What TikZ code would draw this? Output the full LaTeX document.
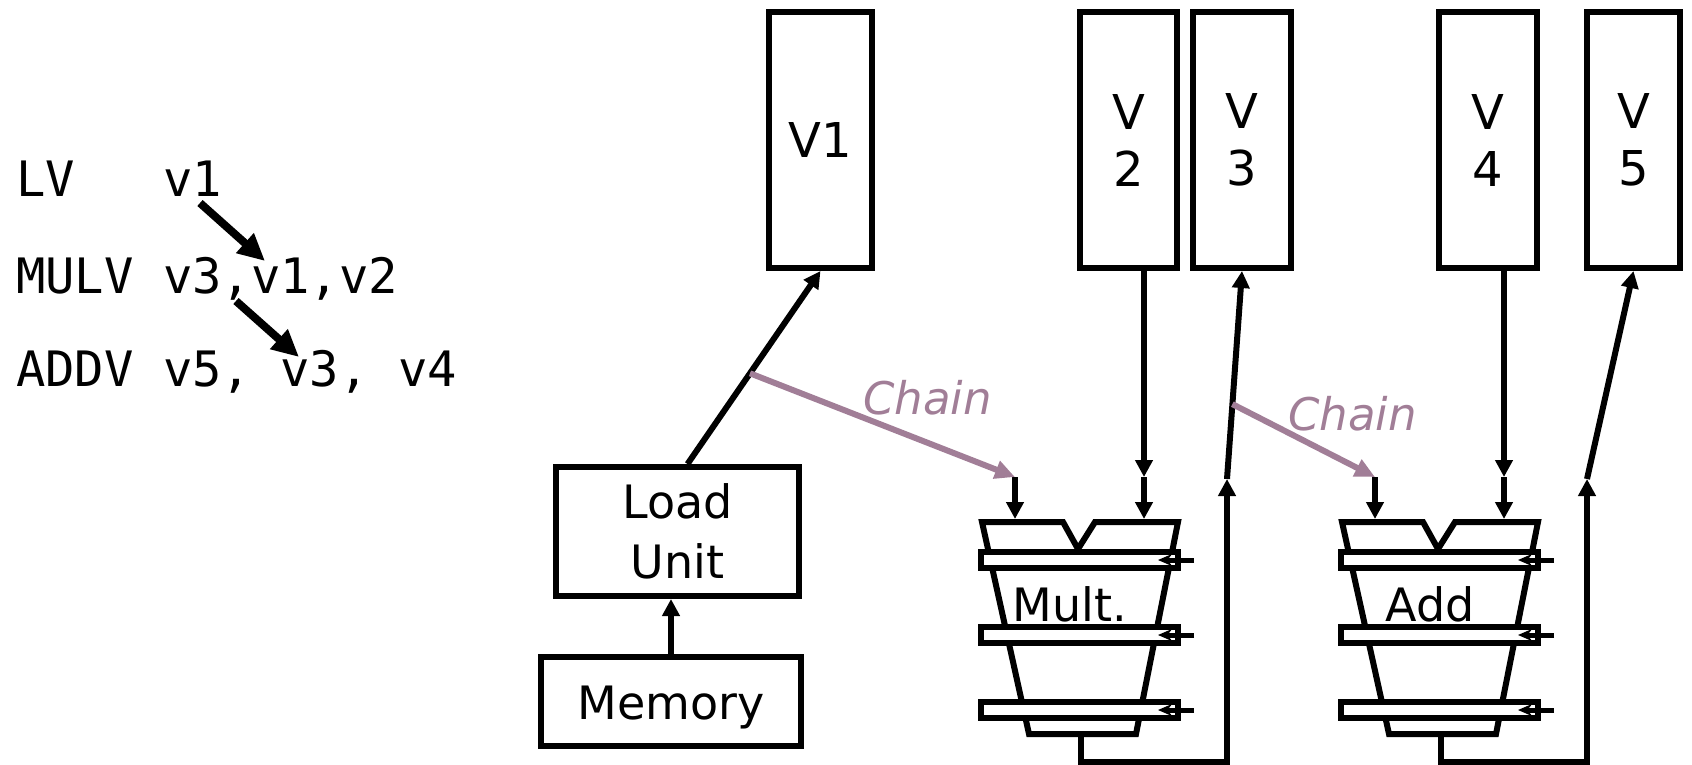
\documentclass[tikz,border=0pt]{standalone}
\usepackage{fontspec}
\setmainfont{DejaVu Sans}
\setmonofont{DejaVu Sans Mono}
\usetikzlibrary{arrows.meta,calc}
\definecolor{chaincol}{RGB}{161,126,151}
\newcommand\vfunit[3]{%
  \begin{scope}[xshift=#2]
    \coordinate (#1A) at (1015,519);
    \coordinate (#1B) at (1144,519);
    \coordinate (#1Ain) at (1015,477);
    \coordinate (#1Bin) at (1144,477);
    \coordinate (#1out) at (1081,737);
    \coordinate (#1fb) at (1227,762);
    \coordinate (#1up) at (1227,479);
    \node[unitlabel] (#1lab) at (1070,621) {#3};
    \draw[thick6] (982,522) -- (1063,522) -- (1078,549) -- (1095,522) -- (1178,522)
      -- (1136,734) -- (1029,734) -- cycle;
    \foreach \yy in {560,635,710}{
      \draw[thick6,fill=white] (980.5,\yy-8) rectangle (1177.5,\yy+8);
      \draw[clk] (1194,\yy) -- (1158,\yy);
    }
    \draw[arr] (#1Ain) -- (#1A);
    \draw[arr] (#1Bin) -- (#1B);
    \draw[arr] (#1out) |- (#1fb) -- (#1up);
  \end{scope}}
\begin{document}
\begin{tikzpicture}[x=1pt,y=-1pt,
  thick6/.style={line width=6pt,line join=miter},
  box/.style={draw,line width=6pt,rectangle,inner sep=0pt,align=center,
    font=\fontsize{46}{60}\selectfont},
  vreg/.style={box,minimum height=256pt,font=\fontsize{48}{57}\selectfont},
  arr/.style={line width=6pt,-{Triangle[length=17pt,width=17pt]}},
  chainarr/.style={line width=6pt,draw=chaincol,-{Triangle[length=20pt,width=18pt]}},
  chainlab/.style={text=chaincol,inner sep=0pt,anchor=base west,
    font=\fontsize{45}{54}\selectfont\itshape},
  clk/.style={line width=5pt,-{Stealth[length=14pt,width=12pt]}},
  unitlabel/.style={inner sep=0pt,anchor=base,font=\fontsize{46}{55}\selectfont},
  code/.style={inner sep=0pt,anchor=base west,font=\fontsize{48.8}{58}\selectfont\ttfamily},
  codearr/.style={line width=8pt,-{Triangle[length=27pt,width=25pt]}}]
\useasboundingbox (0,0) rectangle (1692,764);

% code listing
\node[code] (l1) at (16,196) {LV\ \ \ v1};
\node[code] (l2) at (16,293) {MULV v3,v1,v2};
\node[code] (l3) at (16,386) {ADDV v5, v3, v4};
\coordinate (d1s) at (200,203);
\coordinate (d1e) at (265,261);
\coordinate (d2s) at (236,301);
\coordinate (d2e) at (299,357);
\draw[codearr] (d1s) -- (d1e);
\draw[codearr] (d2s) -- (d2e);

% vector registers
\node[vreg,minimum width=103pt] (V1) at (820.5,140) {V1};
\node[vreg,minimum width=97pt] (V2) at (1128.5,140) {V\\2};
\node[vreg,minimum width=98pt] (V3) at (1242,140) {V\\3};
\node[vreg,minimum width=98pt] (V4) at (1488,140) {V\\4};
\node[vreg,minimum width=93pt] (V5) at (1633.5,140) {V\\5};

% load unit and memory
\node[box,minimum width=243pt,minimum height=129pt] (load) at (677.5,531.5) {Load\\Unit};
\node[box,minimum width=260pt,minimum height=89pt,text depth=0pt] (mem) at (671,701.5) {\raisebox{-3pt}{Memory}};
\draw[arr] (mem.north) -- (mem.north |- load.south);
\draw[arr] ($(load.north)+(10,0)$) -- coordinate[pos=0.47] (c1) (V1.south);

% functional units
\vfunit{m}{0pt}{Mult.}
\vfunit{a}{360pt}{Add}

% register connections
\draw[arr] (mBin |- V2.south) -- (mBin);
\draw[arr] (aBin |- V4.south) -- (aBin);
\draw[arr] (mup) -- coordinate[pos=0.36] (c2) (V3.south);
\draw[arr] (aup) -- (V5.south);

% chaining
\draw[chainarr] (c1) -- (mAin);
\draw[chainarr] (c2) -- (aAin);
\node[chainlab] (ch1) at (863,414) {Chain};
\node[chainlab] (ch2) at (1288,430) {Chain};
\end{tikzpicture}
\end{document}
